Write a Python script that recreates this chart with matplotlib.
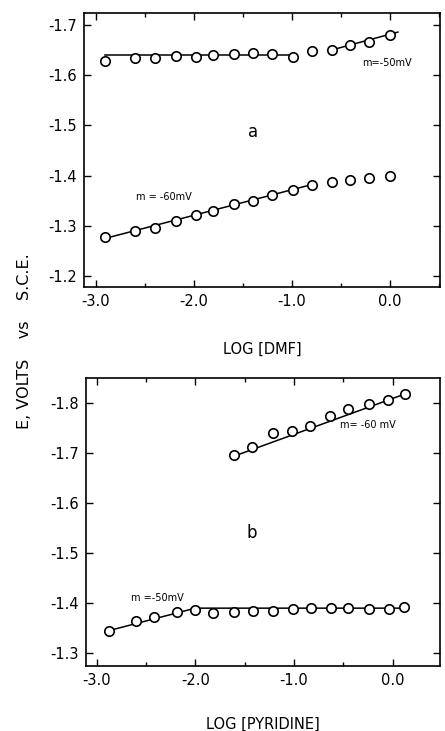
import matplotlib
matplotlib.use("Agg")
import matplotlib.pyplot as plt
from matplotlib.ticker import MultipleLocator, FixedLocator

plt.rcParams["axes.unicode_minus"] = False
plt.rcParams["font.family"] = "DejaVu Sans"

# panel a: log[DMF]
dmf_x = [-2.90, -2.60, -2.40, -2.18, -1.98, -1.80, -1.59, -1.40, -1.20, -0.99,
         -0.79, -0.59, -0.41, -0.21, 0.00]
dmf_upper = [-1.629, -1.635, -1.635, -1.639, -1.637, -1.640, -1.643, -1.645,
             -1.643, -1.637, -1.649, -1.650, -1.661, -1.667, -1.680]
dmf_lower = [-1.277, -1.289, -1.295, -1.310, -1.321, -1.330, -1.344, -1.349,
             -1.362, -1.371, -1.381, -1.387, -1.391, -1.396, -1.399]
dmf_fit_upper_a = ([-2.90, -0.99], [-1.640, -1.640])
dmf_fit_upper_b = ([-0.60, 0.08], [-1.650, -1.686])
dmf_fit_lower = ([-2.90, -0.78], [-1.275, -1.383])

# panel b: log[pyridine]
pyr_x_upper = [-1.61, -1.43, -1.21, -1.02, -0.84, -0.64, -0.45, -0.24, -0.05, 0.12]
pyr_upper = [-1.695, -1.711, -1.739, -1.744, -1.754, -1.774, -1.787, -1.798,
             -1.806, -1.817]
pyr_x_lower = [-2.88, -2.60, -2.42, -2.19, -2.00, -1.82, -1.61, -1.42, -1.21,
               -1.01, -0.83, -0.63, -0.45, -0.24, -0.04, 0.11]
pyr_lower = [-1.345, -1.364, -1.372, -1.382, -1.387, -1.381, -1.383, -1.385,
             -1.385, -1.389, -1.391, -1.391, -1.391, -1.389, -1.389, -1.392]
pyr_fit_upper = ([-1.61, 0.08], [-1.693, -1.814])
pyr_fit_lower = ([-2.88, -2.00, 0.11], [-1.345, -1.390, -1.390])

x_ticks = [-3.0, -2.0, -1.0, 0.0]
x_ticklabels = ["-3.0", "-2.0", "-1.0", "0.0"]

fig = plt.figure(figsize=(4.45, 7.31), dpi=100)
ax1 = fig.add_axes([0.1888, 0.6074, 0.800, 0.3748])
ax2 = fig.add_axes([0.1933, 0.0889, 0.7955, 0.3940])

mk = dict(marker="o", markersize=6.8, markerfacecolor="white",
          markeredgecolor="black", markeredgewidth=1.2, linestyle="none", zorder=3)


def style(ax, yticks):
    ax.set_xticks(x_ticks)
    ax.set_xticklabels(x_ticklabels)
    ax.xaxis.set_minor_locator(MultipleLocator(0.5))
    ax.yaxis.set_major_locator(FixedLocator(yticks))
    ax.set_yticklabels(["%.1f" % v for v in yticks])
    ax.tick_params(which="both", direction="in", top=True, right=True,
                   labelsize=10.5, width=1.0, pad=5)
    ax.tick_params(which="major", length=5)
    ax.tick_params(which="minor", length=3)
    for s in ax.spines.values():
        s.set_linewidth(1.2)


# panel a
ax1.plot(*dmf_fit_upper_a, color="black", lw=1.1)
ax1.plot(*dmf_fit_upper_b, color="black", lw=1.1)
ax1.plot(*dmf_fit_lower, color="black", lw=1.1)
ax1.plot(dmf_x, dmf_upper, **mk)
ax1.plot(dmf_x, dmf_lower, **mk)
ax1.set_xlim(-3.119, 0.51)
ax1.set_ylim(-1.178, -1.724)
style(ax1, [-1.7, -1.6, -1.5, -1.4, -1.3, -1.2])
ax1.text(-0.03, -1.625, "m=-50mV", fontsize=7, ha="center", va="center")
ax1.text(-2.30, -1.357, "m = -60mV", fontsize=7, ha="center", va="center")
ax1.text(-1.395, -1.486, "a", fontsize=12, ha="center", va="center")
ax1.set_xlabel("LOG [DMF]", fontsize=10.5, labelpad=24)

# panel b
ax2.plot(*pyr_fit_upper, color="black", lw=1.1)
ax2.plot(*pyr_fit_lower, color="black", lw=1.1)
ax2.plot(pyr_x_upper, pyr_upper, **mk)
ax2.plot(pyr_x_lower, pyr_lower, **mk)
ax2.set_xlim(-3.108, 0.479)
ax2.set_ylim(-1.2746, -1.849)
style(ax2, [-1.8, -1.7, -1.6, -1.5, -1.4, -1.3])
ax2.text(-0.25, -1.755, "m= -60 mV", fontsize=7, ha="center", va="center")
ax2.text(-2.38, -1.41, "m =-50mV", fontsize=7, ha="center", va="center")
ax2.text(-1.43, -1.54, "b", fontsize=12, ha="center", va="center")
ax2.set_xlabel("LOG [PYRIDINE]", fontsize=10.5, labelpad=21)

fig.text(25 / 445, 1 - 341 / 731, "E, VOLTS    vs    S.C.E.", rotation=90,
         fontsize=11.5, ha="center", va="center")

fig.savefig("out.png", dpi=100)
